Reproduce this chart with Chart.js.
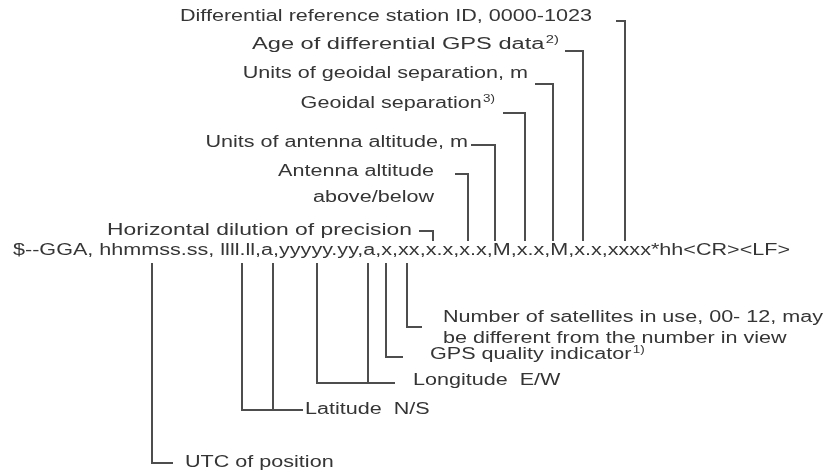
<!DOCTYPE html>
<html>
<head>
<meta charset="utf-8">
<script src="https://cdn.jsdelivr.net/npm/chart.js@4.4.1/dist/chart.umd.min.js"></script>
<style>
  html, body { margin: 0; padding: 0; background: #ffffff; }
  #lienzo { display: block; }
</style>
</head>
<body>
<canvas id="lienzo" width="833" height="475"></canvas>
<script>
// sentencia NMEA que se describe
const sentencia = "$--GGA, hhmmss.ss, llll.ll,a,yyyyy.yy,a,x,xx,x.x,x.x,M,x.x,M,x.x,xxxx*hh<CR><LF>";

// etiquetas de arriba (campos del final de la sentencia)
const etiquetasArriba = [
    "Differential reference station ID, 0000-1023",
    "Age of differential GPS data",
    "Units of geoidal separation, m",
    "Geoidal separation",
    "Units of antenna altitude, m",
    "Antenna altitude",
    "above/below",
    "Horizontal dilution of precision"
];
const notasArriba = ["", "2)", "", "3)", "", "", "", ""];

// etiquetas de abajo (campos del principio)
const etiquetasAbajo = [
    "Number of satellites in use, 00- 12, may",
    "be different from the number in view",
    "GPS quality indicator",
    "Longitude  E/W",
    "Latitude  N/S",
    "UTC of position"
];
const notasAbajo = ["", "", "1)", "", "", ""];

// posicion de cada campo sobre la sentencia (x) y altura de su codo (y)
const camposArribaX = [625, 583, 553, 525, 495, 468, 433];
const codosArribaY = [21, 51, 84, 113, 145, 174, 231];
const inicioCodoArribaX = [616, 565, 535, 503, 471, 455, 419];

const camposAbajoX = [407, 386, 317, 242, 152];
const camposAbajoPareja = [null, null, 368, 273, null];
const codosAbajoY = [327, 357, 383, 410, 463];
const finCodoAbajoX = [422, 403, 395, 303, 173];

// textos de arriba: borde derecho, centro vertical y (opcional) borde izquierdo
const posArriba = [[592, 17], [559, 45], [528, 74], [495, 104], [468, 143], [434, 172], [434, 198], [412, 231]];
const izqArriba = [null, 252, null, null, null, null, null, 107];
// textos de abajo: borde izquierdo y centro vertical
const posAbajo = [[443, 318], [443, 339], [430, 355], [413, 381], [305, 410], [185, 463]];
const posSentencia = [13, 251];
const finSentenciaX = 790;

const lineaSuperiorY = 241;
const lineaInferiorY = 263;
const colorLinea = "#4d4d4d";
const colorTexto = "#353535";
const fuente = "16px 'Liberation Sans', Arial, sans-serif";
const fuenteNota = "10px 'Liberation Sans', Arial, sans-serif";

// armado de los trazos como datasets de lineas
let trazos = [];
camposArribaX.forEach((x, i) => {
    trazos.push([[inicioCodoArribaX[i], codosArribaY[i]], [x, codosArribaY[i]], [x, lineaSuperiorY]]);
});
camposAbajoX.forEach((x, i) => {
    trazos.push([[x, lineaInferiorY], [x, codosAbajoY[i]], [finCodoAbajoX[i], codosAbajoY[i]]]);
    if (camposAbajoPareja[i] !== null) {
        trazos.push([[camposAbajoPareja[i], lineaInferiorY], [camposAbajoPareja[i], codosAbajoY[i]]]);
    }
});

const datasets = trazos.map(t => ({
    type: 'line',
    data: t.map(p => ({x: p[0], y: p[1]})),
    borderColor: colorLinea,
    borderWidth: 2,
    pointRadius: 0,
    fill: false,
    tension: 0
}));

let estiramiento = 1;

const pluginTextos = {
    id: 'textos',
    afterDatasetsDraw(chart) {
        const ctx = chart.ctx;
        const ex = chart.scales.x, ey = chart.scales.y;
        ctx.save();
        ctx.font = fuente;
        // el original esta estirado a lo ancho, se ajusta con la sentencia
        estiramiento = (finSentenciaX - posSentencia[0]) / ctx.measureText(sentencia).width;

        // alinear: 'left' usa px como borde izquierdo, 'right' como borde derecho
        // si viene izq, el texto se estira entre izq y px
        const escribir = (texto, nota, px, py, alinear, izq) => {
            ctx.save();
            ctx.font = fuente;
            const wTexto = ctx.measureText(texto).width;
            ctx.font = fuenteNota;
            const wNota = nota ? ctx.measureText(nota).width + 1 : 0;
            let sx = estiramiento;
            if (izq !== null && izq !== undefined) {
                sx = (ex.getPixelForValue(px) - ex.getPixelForValue(izq)) / (wTexto + wNota);
            }
            const ancho = (wTexto + wNota) * sx;
            let x = ex.getPixelForValue(px);
            const y = ey.getPixelForValue(py);
            if (alinear === 'right') x -= ancho;
            ctx.translate(x, y);
            ctx.scale(sx, 1);
            ctx.fillStyle = colorTexto;
            ctx.textBaseline = 'middle';
            ctx.textAlign = 'left';
            ctx.font = fuente;
            ctx.fillText(texto, 0, 0);
            if (nota) {
                ctx.font = fuenteNota;
                ctx.fillText(nota, wTexto + 1, -5);
            }
            ctx.restore();
        };

        escribir(sentencia, "", posSentencia[0], posSentencia[1], 'left', null);
        etiquetasArriba.forEach((t, i) => escribir(t, notasArriba[i], posArriba[i][0], posArriba[i][1], 'right', izqArriba[i]));
        etiquetasAbajo.forEach((t, i) => escribir(t, notasAbajo[i], posAbajo[i][0], posAbajo[i][1], 'left', null));
        ctx.restore();
    }
};

const grafico = new Chart(document.getElementById('lienzo'), {
    type: 'scatter',
    data: { datasets: datasets },
    options: {
        responsive: false,
        animation: false,
        layout: { padding: 0 },
        scales: {
            x: { type: 'linear', min: 0, max: 833, display: false },
            y: { type: 'linear', min: 0, max: 475, reverse: true, display: false }
        },
        plugins: {
            legend: { display: false },
            tooltip: { enabled: false }
        }
    },
    plugins: [pluginTextos]
});
</script>
</body>
</html>
